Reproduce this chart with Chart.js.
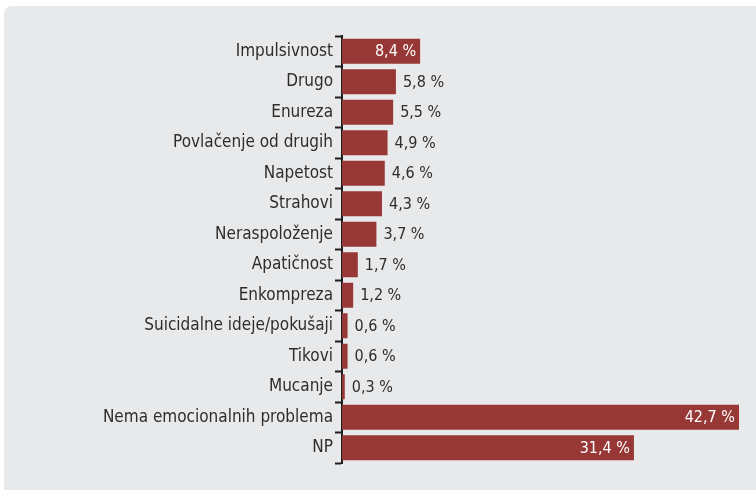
<!DOCTYPE html>
<html lang="hr">
<head>
    <meta charset="UTF-8">
    <title>Emocionalni problemi</title>
    <script src="https://cdn.jsdelivr.net/npm/chart.js"></script>
    <style>
        html, body { margin: 0; padding: 0; background: #fff; }
        .okvir { position: relative; width: 756px; height: 490px; overflow: hidden; }
        .panel { position: absolute; left: 4px; top: 6px; right: 0; bottom: 0; background: #e8e9eb; border-top-left-radius: 8px; }
        canvas { position: absolute; left: 0; top: 0; }
    </style>
</head>
<body>
    <div class="okvir">
        <div class="panel"></div>
        <canvas id="grafikon" width="756" height="490"></canvas>
    </div>

    <script>
        const kategorije = [
            'Impulsivnost', 'Drugo', 'Enureza', 'Povlačenje od drugih', 'Napetost',
            'Strahovi', 'Neraspoloženje', 'Apatičnost', 'Enkompreza',
            'Suicidalne ideje/pokušaji', 'Tikovi', 'Mucanje',
            'Nema emocionalnih problema', 'NP'
        ];
        const postoci = [8.4, 5.8, 5.5, 4.9, 4.6, 4.3, 3.7, 1.7, 1.2, 0.6, 0.6, 0.3, 42.7, 31.4];
        // vrijednosti koje se ispisuju bijelo unutar stupca
        const unutra = [true, false, false, false, false, false, false, false, false, false, false, false, true, true];

        const font = "'DejaVu Sans Condensed', 'Liberation Sans Narrow', 'Roboto', sans-serif";

        function formatiraj(v) {
            return v.toFixed(1).replace('.', ',') + ' %';
        }

        // ispis postotaka uz stupce
        const oznake = {
            id: 'oznake',
            afterDatasetsDraw(chart) {
                const ctx = chart.ctx;
                const meta = chart.getDatasetMeta(0);
                ctx.save();
                ctx.font = '16px ' + font;
                ctx.textBaseline = 'middle';
                meta.data.forEach((bar, i) => {
                    const tekst = formatiraj(postoci[i]);
                    if (unutra[i]) {
                        ctx.fillStyle = '#ffffff';
                        ctx.textAlign = 'right';
                        ctx.fillText(tekst, bar.x - 4, bar.y + 1);
                    } else {
                        ctx.fillStyle = '#2d2d2d';
                        ctx.textAlign = 'left';
                        ctx.fillText(tekst, bar.x + 7, bar.y + 1);
                    }
                });
                ctx.restore();
            }
        };

        new Chart(document.getElementById('grafikon'), {
            type: 'bar',
            data: {
                labels: kategorije,
                datasets: [{
                    data: postoci,
                    backgroundColor: '#983836',
                    borderWidth: 0,
                    categoryPercentage: 1,
                    barPercentage: 0.82
                }]
            },
            options: {
                indexAxis: 'y',
                responsive: false,
                animation: false,
                layout: { padding: { top: 36, bottom: 27, right: 17, left: 0 } },
                plugins: { legend: { display: false }, tooltip: { enabled: false } },
                scales: {
                    x: { display: false, min: 0, max: 42.7 },
                    y: {
                        afterFit(s) { s.width = 342; },
                        border: { display: true, color: '#1e1e1e', width: 2 },
                        grid: {
                            offset: true,
                            drawOnChartArea: false,
                            drawTicks: true,
                            tickLength: 7,
                            tickWidth: 2,
                            tickColor: '#1e1e1e'
                        },
                        ticks: {
                            color: '#2d2d2d',
                            padding: 2,
                            font: { family: font, size: 17 }
                        }
                    }
                }
            },
            plugins: [oznake]
        });
    </script>
</body>
</html>
